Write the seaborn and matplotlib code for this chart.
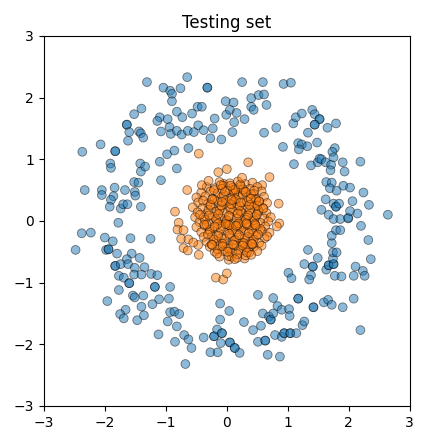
import matplotlib
matplotlib.use("Agg")
import matplotlib.pyplot as plt
import seaborn as sns
import pandas as pd

# Outer ring (class 0) points
blue_x = [-1.31,-0.65,-0.32,-0.32,0.25,0.59,0.93,1.05,-1.04,-0.93,-0.90,-0.76,-0.90,-0.02,0.11,0.40,0.52,0.61,0.65,
          -1.40,-1.52,-0.82,-0.73,-0.57,-0.48,-0.41,-0.20,-0.01,0.05,0.16,0.12,0.29,0.40,0.44,
          -1.64,-1.64,-1.60,-1.44,-1.41,-1.37,-1.62,-1.10,-1.14,-0.97,-1.08,-0.94,-0.92,-0.82,-0.74,-0.64,-0.54,-0.47,-0.38,-0.23,-0.27,-0.09,0.09,
          0.61,0.81,1.09,1.13,1.23,1.40,1.44,1.52,1.52,1.44,1.44,1.65,1.79,1.33,1.17,1.23,1.32,1.18,1.48,0.92,
          -2.37,-2.07,-1.83,-1.83,-1.91,-1.90,-1.42,-1.41,-1.34,-1.10,-0.98,-0.86,-0.63,-0.82,-1.08,
          1.10,1.38,1.49,1.52,1.55,1.62,1.71,1.77,1.73,1.75,1.90,2.19,1.70,1.93,
          -2.33,-2.05,-2.05,-1.84,-1.86,-1.90,-1.92,-1.74,-1.67,-1.70,-1.63,-1.52,-1.45,-1.51,-1.50,-1.41,-1.78,
          1.63,1.72,1.69,1.80,1.91,2.02,2.24,1.62,1.75,1.79,1.79,1.84,1.55,1.67,1.75,1.86,1.99,1.99,2.02,2.06,2.14,2.33,2.64,2.20,
          -2.38,-2.23,-2.48,-2.00,-1.87,-1.98,-1.94,-1.94,-1.80,-1.58,-1.56,-1.64,-1.43,-1.25,-1.83,-1.83,-1.74,-1.62,-1.51,-1.35,
          -1.77,-1.69,-1.60,-1.60,-1.52,-1.40,-1.24,-1.14,-1.18,-1.18,-0.93,-1.77,-1.54,-1.51,-1.37,-1.11,-0.95,-1.22,-1.96,
          -1.66,-1.75,-1.69,-1.47,-1.40,-1.36,-0.93,-0.86,-0.78,-0.97,-0.82,-1.12,-0.85,-0.70,-0.63,-0.58,-0.68,
          -0.38,-0.27,-0.21,-0.21,-0.16,-0.15,-0.10,-0.08,-0.08,0.05,0.05,0.13,0.13,0.21,-0.11,-0.11,0.04,
          0.28,0.43,0.56,0.51,0.63,0.63,0.67,0.87,0.51,0.59,0.69,0.72,0.72,0.76,0.76,0.83,0.90,1.02,1.03,
          0.79,0.90,0.94,0.94,1.04,1.04,1.14,1.24,1.27,1.17,1.17,1.42,1.42,2.19,1.59,1.66,1.72,1.90,2.08,
          1.01,1.06,1.33,1.27,1.41,1.41,1.49,1.38,1.35,1.63,1.67,1.67,1.75,1.75,1.74,1.74,1.80,1.72,1.72,1.79,1.86,
          1.77,1.88,2.08,2.11,2.23,2.26,2.32,2.36]
blue_y = [2.25,2.33,2.16,2.16,2.25,2.25,2.22,2.24,2.16,2.11,2.06,2.15,1.94,1.94,1.92,1.99,2.04,2.05,1.88,
          1.82,1.73,1.77,1.68,1.74,1.85,1.85,1.66,1.72,1.80,1.75,1.60,1.65,1.85,1.80,
          1.56,1.56,1.44,1.45,1.42,1.35,1.30,1.68,1.62,1.65,1.45,1.52,1.41,1.46,1.40,1.46,1.44,1.55,1.47,1.50,1.34,1.32,1.44,
          1.43,1.51,1.58,1.68,1.74,1.80,1.73,1.65,1.65,1.56,1.56,1.51,1.58,1.43,1.26,1.24,1.21,1.16,1.27,1.20,
          1.12,1.24,1.13,1.13,0.93,0.86,0.93,0.80,0.88,0.96,1.08,1.14,1.18,0.85,0.66,
          0.92,0.90,0.95,1.01,1.00,0.95,0.91,1.18,1.12,1.03,0.95,0.96,0.82,0.80,
          0.50,0.50,0.42,0.54,0.40,0.34,0.23,0.20,0.50,0.27,0.27,0.63,0.62,0.47,0.41,0.23,-0.03,
          0.63,0.62,0.53,0.49,0.57,0.54,0.46,0.35,0.28,0.23,0.23,0.28,0.18,0.10,0.03,0.03,0.04,0.05,0.16,0.32,0.12,0.26,0.10,-0.08,
          -0.20,-0.19,-0.47,-0.27,-0.33,-0.47,-0.46,-0.46,-0.53,-0.28,-0.53,-0.62,-0.60,-0.29,-0.73,-0.73,-0.70,-0.70,-0.76,-0.75,
          -0.89,-0.92,-1.01,-1.01,-0.87,-0.87,-0.86,-0.88,-1.07,-1.07,-1.07,-1.12,-1.21,-1.24,-1.21,-1.27,-1.26,-1.35,-1.30,
          -1.44,-1.51,-1.58,-1.61,-1.39,-1.53,-1.48,-1.47,-1.51,-1.63,-1.71,-1.84,-1.96,-1.85,-1.92,-2.06,-2.32,
          -1.89,-2.13,-1.87,-1.87,-1.76,-2.13,-1.98,-1.82,-1.82,-1.97,-1.97,-2.06,-2.06,-2.14,-1.60,-1.34,-1.46,
          -1.64,-1.77,-1.70,-1.96,-1.94,-1.94,-2.17,-2.20,-1.20,-1.50,-1.55,-1.60,-1.60,-1.50,-1.25,-1.38,-1.44,-1.43,-1.54,
          -1.85,-1.88,-1.82,-1.82,-1.82,-1.82,-1.82,-1.69,-1.63,-1.26,-1.26,-1.40,-1.40,-1.77,-1.32,-1.28,-1.36,-1.40,-1.26,
          -0.84,-0.93,-0.47,-0.70,-0.74,-0.74,-0.60,-0.88,-0.95,-0.79,-0.72,-0.72,-0.70,-0.70,-0.61,-0.51,-0.51,-0.36,-0.24,-0.15,-0.15,
          -0.89,-0.90,-0.89,-0.74,-0.81,-0.89,-0.31,-0.62]

# Inner disc (class 1) points
orange_x = [-0.46,-0.14,0.00,0.35,0.70,0.58,0.85,0.86,0.82,-0.85,-0.65,-0.79,-0.81,-0.71,-0.75,-0.63,-0.71,-0.64,-0.47,-0.46,
            -0.18,-0.06,0.00,0.29,0.03,0.08,-0.05,
            -0.12,0.05,0.18,0.30,0.42,
            -0.33,-0.20,-0.06,0.10,0.23,0.38,0.50,
            -0.42,-0.27,-0.15,0.01,0.13,0.29,0.44,0.57,
            -0.50,-0.35,-0.23,-0.08,0.07,0.19,0.34,0.47,0.61,
            -0.47,-0.31,-0.16,-0.02,0.12,0.27,0.40,0.53,0.66,
            -0.56,-0.40,-0.26,-0.11,0.04,0.17,0.32,0.45,0.59,
            -0.48,-0.33,-0.19,-0.04,0.11,0.24,0.38,0.51,0.65,
            -0.52,-0.38,-0.23,-0.09,0.05,0.20,0.33,0.47,0.61,0.72,
            -0.45,-0.30,-0.16,-0.01,0.14,0.27,0.42,0.55,0.68,
            -0.50,-0.36,-0.21,-0.07,0.08,0.22,0.36,0.49,0.63,
            -0.42,-0.28,-0.13,0.01,0.16,0.30,0.44,0.58,0.70,
            -0.38,-0.24,-0.09,0.05,0.20,0.34,0.48,0.62,
            -0.33,-0.18,-0.04,0.11,0.25,0.39,0.53,
            -0.28,-0.13,0.02,0.16,0.30,0.44,0.57,
            -0.20,-0.06,0.09,0.23,0.37,0.50,
            -0.12,0.03,0.17,0.31,
            -0.05,0.12,0.26,0.40,-0.20,-0.02,0.15,0.33,0.48,-0.30,-0.12,0.06,0.22,0.38,0.52,
            -0.36,-0.18,0.00,0.16,0.31,0.45,-0.28,-0.10,0.09,0.24,0.41,0.55,-0.22,-0.04,0.13,0.29,0.44,
            -0.15,0.03,0.19,0.35,-0.08,0.10,0.27,0.02,0.18,
            -0.27,-0.09,0.07,0.21,0.37,0.50,-0.33,-0.15,0.04,0.19,0.33,0.46,-0.25,-0.07,0.12,0.28,0.42,
            -0.21,-0.03,0.14,0.31,0.45,-0.39,-0.24,-0.08,0.08,0.23,0.39,0.53,-0.44,-0.29,-0.14,0.03,0.18,0.35,0.49,
            -0.37,-0.20,-0.02,0.15,0.32,0.47,-0.31,-0.14,0.04,0.20,0.36,0.51,-0.24,-0.07,0.10,0.26,0.41,
            -0.16,0.01,0.17,0.33,-0.10,0.06,0.22,0.13,-0.41,0.60,0.66,-0.55,0.25,-0.30,0.40]
orange_y = [1.09,0.79,0.84,0.95,0.71,0.58,0.28,-0.04,-0.09,0.15,0.50,-0.03,-0.14,-0.15,-0.29,-0.30,-0.44,-0.48,-0.39,-0.55,
            -0.92,-0.95,-0.85,-0.61,-0.63,-0.58,0.60,
            0.63,0.61,0.64,0.60,0.62,
            0.55,0.53,0.57,0.54,0.56,0.52,0.55,
            0.46,0.48,0.45,0.49,0.46,0.47,0.44,0.48,
            0.38,0.40,0.36,0.39,0.37,0.41,0.38,0.36,0.39,
            0.30,0.28,0.31,0.29,0.32,0.30,0.27,0.31,0.29,
            0.22,0.21,0.24,0.20,0.23,0.22,0.19,0.24,0.21,
            0.14,0.12,0.15,0.13,0.16,0.14,0.12,0.15,0.13,
            0.06,0.05,0.07,0.04,0.08,0.06,0.05,0.07,0.04,0.06,
            -0.02,-0.03,0.00,-0.01,-0.04,-0.02,0.00,-0.03,-0.01,
            -0.10,-0.08,-0.11,-0.09,-0.12,-0.10,-0.08,-0.11,-0.09,
            -0.18,-0.17,-0.20,-0.16,-0.19,-0.18,-0.21,-0.17,-0.19,
            -0.26,-0.25,-0.28,-0.24,-0.27,-0.26,-0.24,-0.28,
            -0.34,-0.33,-0.36,-0.32,-0.35,-0.34,-0.36,
            -0.42,-0.41,-0.44,-0.40,-0.43,-0.42,-0.40,
            -0.50,-0.49,-0.52,-0.48,-0.51,-0.49,
            -0.58,-0.57,-0.60,-0.56,
            0.42,0.44,0.41,0.43,0.34,0.33,0.35,0.32,0.34,0.18,0.17,0.19,0.16,0.18,0.17,
            0.02,0.03,0.01,0.04,0.02,0.01,-0.14,-0.13,-0.15,-0.12,-0.14,-0.13,-0.30,-0.29,-0.31,-0.28,-0.30,
            -0.46,-0.45,-0.47,-0.44,0.52,0.50,0.51,-0.06,-0.07,
            0.26,0.25,0.27,0.24,0.26,0.25,-0.06,-0.05,-0.07,-0.04,-0.06,-0.05,-0.38,-0.37,-0.39,-0.36,-0.38,
            0.50,0.48,0.51,0.47,0.49,0.33,0.35,0.31,0.34,0.30,0.36,0.32,0.10,0.09,0.11,0.08,0.12,0.09,0.10,
            -0.06,-0.09,-0.05,-0.08,-0.04,-0.07,-0.22,-0.24,-0.21,-0.23,-0.20,-0.22,-0.39,-0.41,-0.38,-0.40,-0.37,
            -0.53,-0.50,-0.54,-0.51,0.58,0.57,0.59,-0.62,0.58,0.20,-0.25,-0.35,0.70,0.65,-0.55]

df = pd.DataFrame({
    "x": blue_x + orange_x,
    "y": blue_y + orange_y,
    "cls": ["0"] * len(blue_x) + ["1"] * len(orange_x),
})

fig = plt.figure(figsize=(4.26, 4.37), dpi=100)
ax = fig.add_axes([0.103, 0.071, 0.859, 0.847])
sns.scatterplot(data=df, x="x", y="y", hue="cls", palette=["tab:blue", "tab:orange"],
                alpha=0.5, edgecolor="k", linewidth=0.6, s=40, legend=False, ax=ax)
ax.set_xlim(-3, 3)
ax.set_ylim(-3, 3)
ax.set_xticks([-3, -2, -1, 0, 1, 2, 3])
ax.set_yticks([-3, -2, -1, 0, 1, 2, 3])
ax.set_xlabel("")
ax.set_ylabel("")
ax.set_title("Testing set")
fig.savefig("out.png", dpi=100)
